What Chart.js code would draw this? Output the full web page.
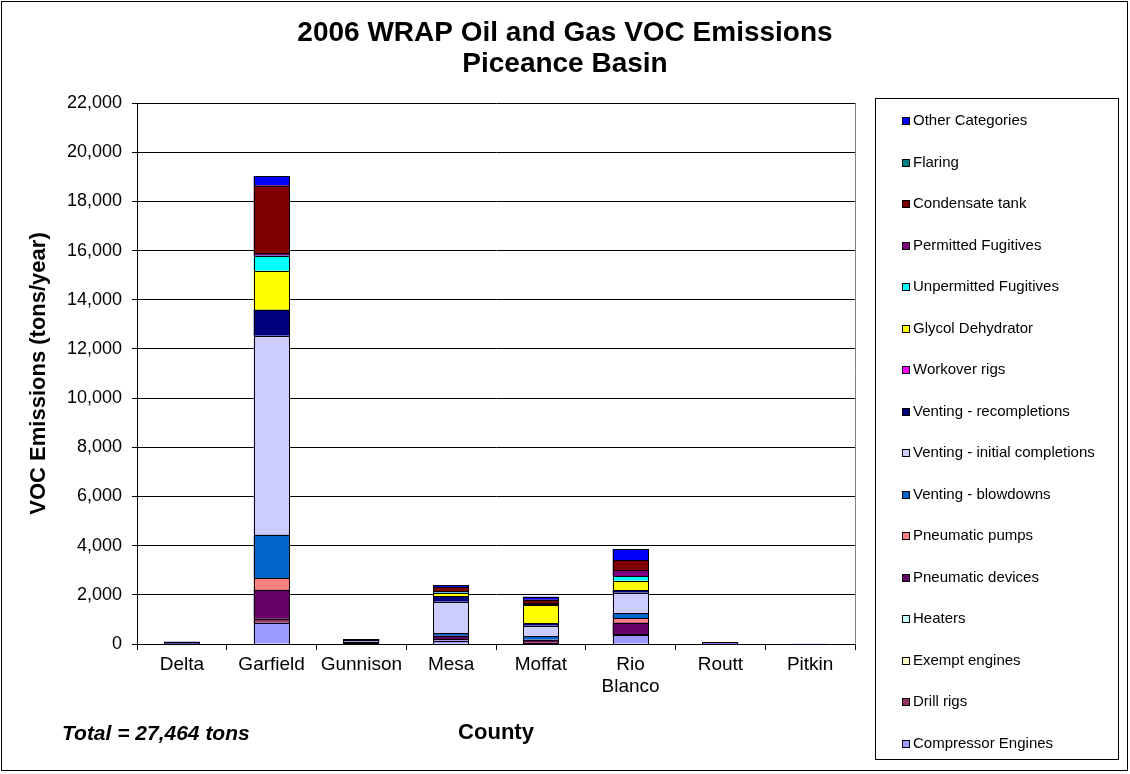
<!DOCTYPE html>
<html>
<head>
<meta charset="utf-8">
<title>2006 WRAP Oil and Gas VOC Emissions - Piceance Basin</title>
<script src="https://cdn.jsdelivr.net/npm/chart.js@4/dist/chart.umd.min.js"></script>
<style>
  html, body { margin: 0; padding: 0; background: #fff; }
  #wrap { width: 1130px; height: 774px; }
</style>
</head>
<body>
<div id="wrap"><canvas id="vocChart" width="1130" height="774"></canvas></div>
<script>
const counties = ['Delta', 'Garfield', 'Gunnison', 'Mesa', 'Moffat', ['Rio', 'Blanco'], 'Routt', 'Pitkin'];
const yTicks = [0, 2000, 4000, 6000, 8000, 10000, 12000, 14000, 16000, 18000, 20000, 22000];

// tons/year by source category, one value per county
const compressorEngines    = [10, 860, 30, 140, 40, 360, 0, 10];
const drillRigs            = [0, 170, 0, 60, 20, 40, 0, 0];
const exemptEngines        = [0, 0, 0, 0, 0, 0, 0, 0];
const heaters              = [0, 0, 0, 0, 0, 0, 0, 0];
const pneumaticDevices     = [0, 1180, 30, 140, 100, 470, 0, 0];
const pneumaticPumps       = [0, 475, 0, 0, 10, 175, 0, 0];
const ventingBlowdowns     = [0, 1760, 0, 90, 160, 200, 0, 0];
const ventingInitial       = [0, 8090, 40, 1290, 410, 840, 0, 0];
const ventingRecompletions = [80, 1055, 60, 220, 100, 95, 0, 0];
const workoverRigs         = [0, 0, 0, 0, 0, 0, 0, 0];
const glycolDehydrator     = [0, 1585, 0, 130, 745, 395, 0, 0];
const unpermittedFugitives = [0, 610, 0, 20, 30, 185, 0, 0];
const permittedFugitives   = [0, 110, 0, 60, 50, 245, 0, 0];
const condensateTank       = [0, 2750, 40, 150, 135, 405, 0, 0];
const flaring              = [0, 0, 0, 0, 0, 0, 0, 0];
const otherCategories      = [0, 390, 0, 100, 125, 450, 70, 0];

const titleLines = ['2006 WRAP Oil and Gas VOC Emissions', 'Piceance Basin'];
const totalNote = 'Total = 27,464 tons';

const FONT = '"Liberation Sans", Arial, sans-serif';

function series(label, data, color) {
    return {
        label: label,
        data: data,
        backgroundColor: color,
        borderWidth: 0,
        barPercentage: 0.4,
        categoryPercentage: 1.0
    };
}

// Excel outlines every segment with a black hairline, even very thin ones
const segmentOutlines = {
    id: 'segmentOutlines',
    afterDatasetsDraw(chart) {
        const ctx = chart.ctx;
        ctx.save();
        ctx.strokeStyle = '#000';
        ctx.lineWidth = 1;
        chart.data.datasets.forEach((d, i) => {
            chart.getDatasetMeta(i).data.forEach(bar => {
                const p = bar.getProps(['x', 'y', 'base', 'width'], true);
                const left = Math.round(p.x - p.width / 2) + 0.5;
                const right = Math.round(p.x + p.width / 2) - 0.5;
                const top = Math.round(Math.min(p.y, p.base)) + 0.5;
                const bottom = Math.round(Math.max(p.y, p.base)) + 0.5;
                ctx.strokeRect(left, top, right - left, bottom - top);
            });
        });
        ctx.restore();
    }
};

// title over the whole canvas, boxed legend, frame and footnote
const extras = {
    id: 'extras',
    afterDraw(chart) {
        const ctx = chart.ctx;
        const area = chart.chartArea;
        ctx.save();

        ctx.fillStyle = '#000';
        ctx.textAlign = 'center';
        ctx.textBaseline = 'middle';
        ctx.font = 'bold 28px ' + FONT;
        titleLines.forEach((t, i) => ctx.fillText(t, 565, 33 + i * 31));

        // plot area right edge
        ctx.strokeStyle = '#808080';
        ctx.lineWidth = 1;
        ctx.beginPath();
        ctx.moveTo(Math.round(area.right) + 0.5, area.top);
        ctx.lineTo(Math.round(area.right) + 0.5, area.bottom);
        ctx.stroke();

        // outer frame
        ctx.strokeStyle = '#000';
        ctx.strokeRect(1.5, 1.5, 1126, 769);

        // legend
        ctx.strokeRect(875.5, 98.5, 243, 661);
        ctx.font = '15px ' + FONT;
        ctx.textAlign = 'left';
        const sets = chart.data.datasets.slice().reverse();
        sets.forEach((d, i) => {
            const y = 121 + i * 41.5;
            ctx.fillStyle = d.backgroundColor;
            ctx.fillRect(902, Math.round(y) - 4, 8, 8);
            ctx.strokeStyle = '#000';
            ctx.strokeRect(902.5, Math.round(y) - 3.5, 7, 7);
            ctx.fillStyle = '#000';
            ctx.fillText(d.label, 913, y);
        });

        // total note
        ctx.font = 'italic bold 21px ' + FONT;
        ctx.fillText(totalNote, 62, 734);
        ctx.restore();
    }
};

const ctx = document.getElementById('vocChart').getContext('2d');
new Chart(ctx, {
    type: 'bar',
    data: {
        labels: counties,
        datasets: [
            series('Compressor Engines', compressorEngines, '#9999FF'),
            series('Drill rigs', drillRigs, '#993366'),
            series('Exempt engines', exemptEngines, '#FFFFCC'),
            series('Heaters', heaters, '#CCFFFF'),
            series('Pneumatic devices', pneumaticDevices, '#660066'),
            series('Pneumatic pumps', pneumaticPumps, '#FF8080'),
            series('Venting - blowdowns', ventingBlowdowns, '#0066CC'),
            series('Venting - initial completions', ventingInitial, '#CCCCFF'),
            series('Venting - recompletions', ventingRecompletions, '#000080'),
            series('Workover rigs', workoverRigs, '#FF00FF'),
            series('Glycol Dehydrator', glycolDehydrator, '#FFFF00'),
            series('Unpermitted Fugitives', unpermittedFugitives, '#00FFFF'),
            series('Permitted Fugitives', permittedFugitives, '#800080'),
            series('Condensate tank', condensateTank, '#800000'),
            series('Flaring', flaring, '#008080'),
            series('Other Categories', otherCategories, '#0000FF')
        ]
    },
    options: {
        responsive: false,
        animation: false,
        devicePixelRatio: 1,
        layout: {
            padding: { left: 22, right: 275, top: 103, bottom: 24 }
        },
        plugins: {
            legend: { display: false },
            tooltip: { enabled: false },
            title: { display: false }
        },
        scales: {
            x: {
                stacked: true,
                afterFit: (scale) => { scale.height = 106; },
                grid: {
                    drawOnChartArea: false,
                    drawTicks: true,
                    tickLength: 6,
                    color: '#000'
                },
                border: { display: true, color: '#000' },
                ticks: {
                    color: '#000',
                    font: { family: FONT, size: 19 },
                    padding: 3,
                    maxRotation: 0,
                    autoSkip: false
                },
                title: {
                    display: true,
                    text: 'County',
                    color: '#000',
                    font: { family: FONT, size: 22, weight: 'bold' }
                }
            },
            y: {
                stacked: true,
                min: yTicks[0],
                max: yTicks[yTicks.length - 1],
                afterFit: (scale) => { scale.width = 115; },
                afterBuildTicks: (scale) => {
                    scale.ticks = yTicks.map(v => ({ value: v }));
                },
                grid: {
                    color: '#000',
                    tickLength: 5
                },
                border: { display: true, color: '#000' },
                ticks: {
                    color: '#000',
                    font: { family: FONT, size: 18 },
                    padding: 10,
                    callback: (v) => Number(v).toLocaleString('en-US')
                },
                title: {
                    display: true,
                    text: 'VOC Emissions (tons/year)',
                    color: '#000',
                    font: { family: FONT, size: 22, weight: 'bold' }
                }
            }
        }
    },
    plugins: [segmentOutlines, extras]
});
</script>
</body>
</html>
